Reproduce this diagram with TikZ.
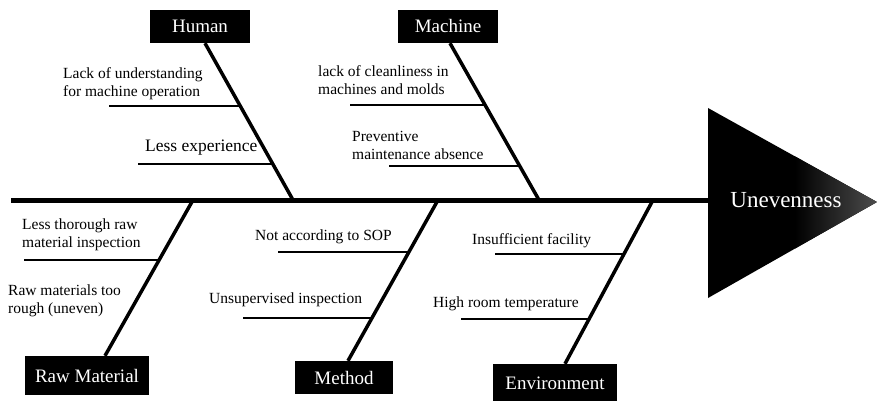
\documentclass[tikz,border=0pt]{standalone}
\usepackage{fontspec}
\setmainfont{Liberation Serif}
\usetikzlibrary{calc}

\tikzset{
  catbox/.style={fill=black, text=white, minimum width=100pt, minimum height=33pt, inner sep=0pt, font=\fontsize{19}{22}\selectfont},
  bone/.style={line width=3.5pt},
  twig/.style={line width=2pt},
  cause/.style={align=left, anchor=west, inner sep=0pt, font=\fontsize{15.5}{18}\selectfont},
}

\begin{document}
\begin{tikzpicture}[x=1pt, y=-1pt]
        \useasboundingbox (0,0) rectangle (877,401);
        % head of the fish
        \fill (708,108) -- (877,202) -- (708,298) -- cycle;
        \begin{scope}
            \clip (708,108) -- (877,202) -- (708,298) -- cycle;
            \shade[left color=black, right color=black!70] (795,100) rectangle (877,300);
        \end{scope}
        \node[text=white, font=\fontsize{23}{26}\selectfont] (effect) at (786,200) {Unevenness};
        % spine
        \coordinate (tail) at (11,200);
        \coordinate (head) at (708,200);
        \draw[line width=5pt] (tail) -- (head);
        % categories
        \node[catbox] (human) at (200,26.5) {Human};
        \node[catbox] (machine) at (448,26.5) {Machine};
        \node[catbox, minimum width=124pt, minimum height=39pt] (raw) at (87,375.5) {Raw Material};
        \node[catbox, minimum width=98pt] (method) at (344,377.5) {Method};
        \node[catbox, minimum width=124pt, minimum height=38pt] (env) at (555,383) {Environment};
        % bones
        \coordinate (hb) at ($(human.south)+(5,0)$);
        \coordinate (mb) at ($(machine.south)+(2,0)$);
        \coordinate (rb) at ($(raw.north)+(18,0)$);
        \coordinate (tb) at ($(method.north)+(4,0)$);
        \coordinate (eb) at ($(env.north)+(10,0)$);
        \coordinate (hs) at (293,200);
        \coordinate (ms) at (539,200);
        \coordinate (rs) at (193,200);
        \coordinate (ts) at (438,200);
        \coordinate (es) at (653,200);
        \draw[bone] (hb) -- (hs) coordinate[pos=0.401] (h1) coordinate[pos=0.771] (h2);
        \draw[bone] (mb) -- (ms) coordinate[pos=0.395] (m1) coordinate[pos=0.783] (m2);
        \draw[bone] (rb) -- (rs) coordinate[pos=0.613] (r1);
        \draw[bone] (tb) -- (ts) coordinate[pos=0.675] (t1) coordinate[pos=0.269] (t2);
        \draw[bone] (eb) -- (es) coordinate[pos=0.671] (e1) coordinate[pos=0.274] (e2);
        % twigs
        \draw[twig] (h1) -- (h1 -| 109,0);
        \draw[twig] (h2) -- (h2 -| 138,0);
        \draw[twig] (m1) -- (m1 -| 350,0);
        \draw[twig] (m2) -- (m2 -| 389,0);
        \draw[twig] (r1) -- (r1 -| 24,0);
        \draw[twig] (t1) -- (t1 -| 278,0);
        \draw[twig] (t2) -- (t2 -| 243,0);
        \draw[twig] (e1) -- (e1 -| 495,0);
        \draw[twig] (e2) -- (e2 -| 461,0);
        % causes
        \node[cause] (hu1) at (63,84) {Lack of understanding\\for machine operation};
        \node[cause, font=\fontsize{17.5}{20}\selectfont] (hu2) at (145,148) {Less experience};
        \node[cause] (ma1) at (318,80) {lack of cleanliness in\\machines and molds};
        \node[cause] (ma2) at (352,145) {Preventive\\maintenance absence};
        \node[cause] (ra1) at (22,234.5) {Less thorough raw\\material inspection};
        \node[cause] (ra2) at (8,301) {Raw materials too\\rough (uneven)};
        \node[cause] (me1) at (255,237) {Not according to SOP};
        \node[cause] (me2) at (209,300) {Unsupervised inspection};
        \node[cause] (en1) at (472,241) {Insufficient facility};
        \node[cause] (en2) at (433,304) {High room temperature};
    \end{tikzpicture}
\end{document}
